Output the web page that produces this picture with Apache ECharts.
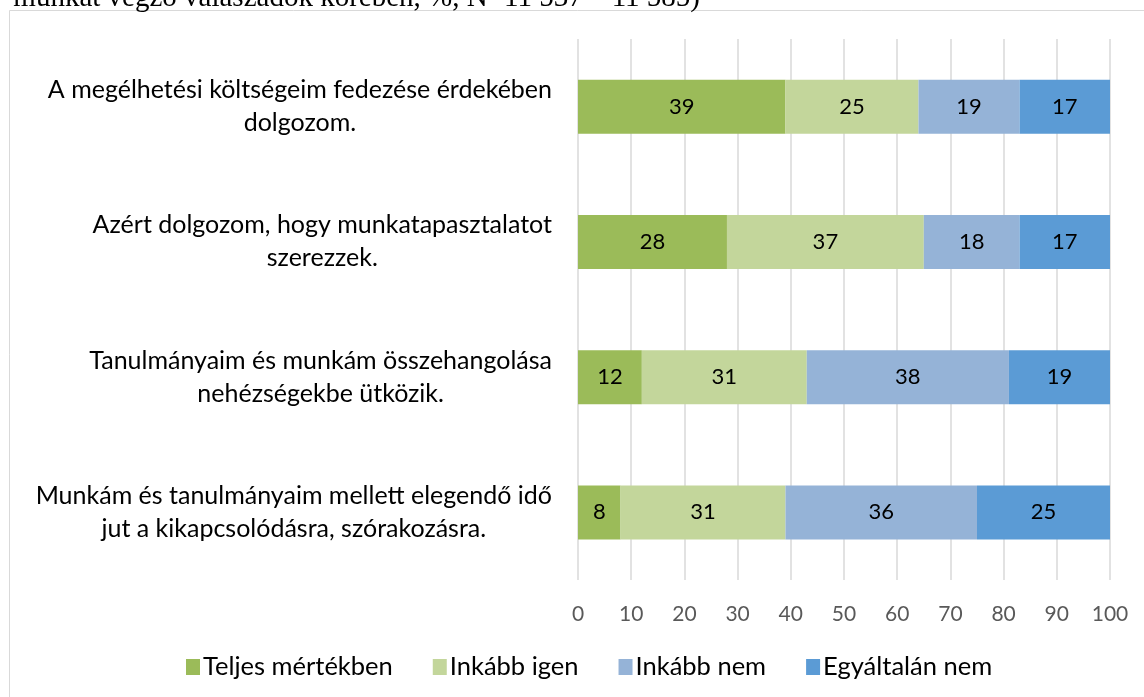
<!DOCTYPE html>
<html>
<head>
<meta charset="utf-8">
<script src="https://cdn.jsdelivr.net/npm/echarts@6/dist/echarts.min.js"></script>
<style>
html,body{margin:0;padding:0;background:#fff;}
#chart{width:1144px;height:697px;}
</style>
</head>
<body>
<div id="chart"></div>
<script>
const categories = [
  "A megélhetési költségeim fedezése érdekében\ndolgozom.",
  "Azért dolgozom, hogy munkatapasztalatot\nszerezzek.",
  "Tanulmányaim és munkám összehangolása\nnehézségekbe ütközik.",
  "Munkám és tanulmányaim mellett elegendő idő\njut a kikapcsolódásra, szórakozásra."
];
const seriesNames = ["Teljes mértékben", "Inkább igen", "Inkább nem", "Egyáltalán nem"];
const teljes = [39, 28, 12, 8];
const inkabbIgen = [25, 37, 31, 31];
const inkabbNem = [19, 18, 38, 36];
const egyaltalan = [17, 17, 19, 25];
const xTicks = [0, 10, 20, 30, 40, 50, 60, 70, 80, 90, 100];
const headerText = "munkát végző válaszadók körében, %, N=11 537 – 11 585)";

const colors = ["#9BBB59", "#C3D69B", "#95B3D7", "#5B9BD5"];
const values = [teljes, inkabbIgen, inkabbNem, egyaltalan];
const FONT = "Lato, 'Noto Sans', sans-serif";

const chart = echarts.init(document.getElementById('chart'), null, {renderer: 'canvas'});
chart.setOption({
  animation: false,
  backgroundColor: '#fff',
  textStyle: {fontFamily: FONT},
  graphic: [
    {type: 'rect', shape: {x: 9.5, y: 10.5, width: 1200, height: 800}, style: {fill: 'none', stroke: '#D9D9D9', lineWidth: 1}, silent: true, z: 0},
    {type: 'text', x: 700, y: 13, z: 10, silent: true,
     style: {text: headerText, fontSize: 29, fontFamily: "'Liberation Serif', serif", fill: '#000', align: 'right', verticalAlign: 'bottom'}}
  ],
  legend: {
    data: seriesNames,
    left: 181,
    top: 649,
    itemWidth: 14,
    itemHeight: 16,
    itemGap: 40,
    icon: 'rect',
    textStyle: {fontSize: 25.5, color: '#000', fontFamily: FONT, padding: [0, 0, 0, -2]}
  },
  grid: {left: 578, right: 34, top: 39, bottom: 117, containLabel: false},
  xAxis: {
    type: 'value',
    min: 0, max: 100, interval: 10,
    axisLine: {show: false},
    axisTick: {show: false},
    splitLine: {show: true, lineStyle: {color: '#D9D9D9', width: 1.5}},
    axisLabel: {
      fontSize: 21, color: '#595959', margin: 24, fontFamily: FONT,
      formatter: function (v) { return xTicks.indexOf(v) >= 0 ? String(v) : ''; }
    }
  },
  yAxis: {
    type: 'category',
    inverse: true,
    data: categories,
    axisLine: {show: false},
    axisTick: {show: false},
    axisLabel: {
      margin: 26,
      align: 'right',
      formatter: function (v) {
        return v.split('\n').map(function (l) { return '{c|' + l + '}'; }).join('\n');
      },
      rich: {c: {align: 'center', fontSize: 25, lineHeight: 33, color: '#000', fontFamily: FONT}}
    }
  },
  series: seriesNames.map(function (name, i) {
    return {
      name: name,
      type: 'bar',
      stack: 'total',
      barWidth: 54,
      itemStyle: {color: colors[i]},
      label: {show: true, position: 'inside', color: '#000', fontSize: 22, fontFamily: FONT},
      data: values[i]
    };
  })
});
</script>
</body>
</html>
